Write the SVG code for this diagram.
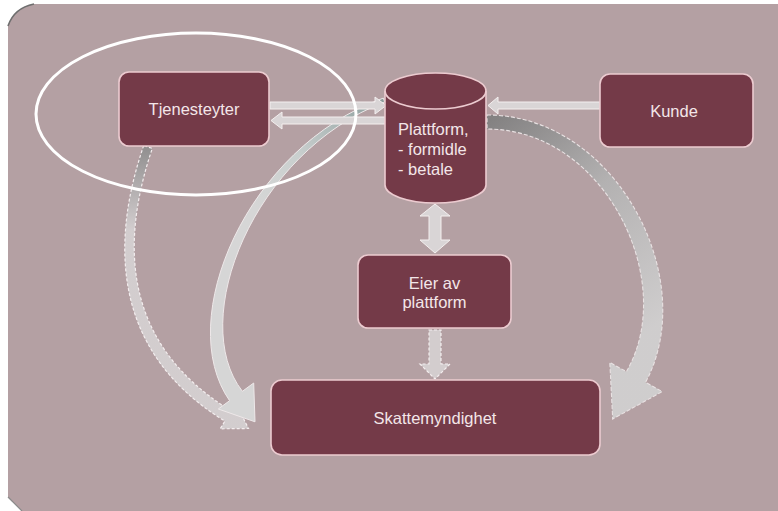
<svg xmlns="http://www.w3.org/2000/svg" width="778" height="511" viewBox="0 0 778 511">
  <style>
    .box { fill: #743A48; stroke: #ECCBD0; stroke-width: 1.6; }
    .lbl { font-family: "Liberation Sans", Arial, sans-serif; font-size: 16.5px; fill: #F3E6E8; }
    .mid { text-anchor: middle; }
    .sa { fill: #D9D5D6; stroke: #F4EFEF; stroke-width: 1; }
    .da { fill: #D6D2D3; fill-opacity: 0.9; stroke: #F4EEEF; stroke-width: 1.2; stroke-dasharray: 3 2; }
  </style>
  <defs>
    <linearGradient id="gL" gradientUnits="userSpaceOnUse" x1="380" y1="98" x2="250" y2="200">
      <stop offset="0" stop-color="#8D9E9D"/>
      <stop offset="0.6" stop-color="#C9CFCE"/>
      <stop offset="1" stop-color="#D6D6D6"/>
    </linearGradient>
    <linearGradient id="gR" gradientUnits="userSpaceOnUse" x1="490" y1="120" x2="650" y2="330">
      <stop offset="0" stop-color="#7E7E7E"/>
      <stop offset="0.45" stop-color="#B3B3B3"/>
      <stop offset="1" stop-color="#D2D2D2"/>
    </linearGradient>
    <linearGradient id="gD" gradientUnits="userSpaceOnUse" x1="0" y1="148" x2="0" y2="230">
      <stop offset="0" stop-color="#8E8E8E"/>
      <stop offset="1" stop-color="#D6D2D3"/>
    </linearGradient>
  </defs>

  <g id="background">
    <rect x="0" y="0" width="778" height="511" fill="#FFFFFF"/>
    <path d="M8,26 Q14,8 34,4 L778,4 L778,511 L22,511 L8,497 Z" fill="#B4A0A3"/>
    <path d="M8,26 Q14,8 34,4" fill="none" stroke="#6E6E6E" stroke-width="1.6"/>
    <path d="M8,497 L22,511" fill="none" stroke="#8A8A8A" stroke-width="1.2"/>
  </g>

  <g id="connectors">
    <!-- Tjenesteyter -> Skattemyndighet (dashed outline curved) -->
    <path class="da" style="fill:url(#gD)" d="M143.7,145.6 C113,235 107,349 224.9,421.1 L220.2,428.8 L248.5,428.5 L235.8,403.2 L231.1,410.9 C117,341 123,235 152.3,148.4 Z"/>
    <!-- Plattform -> Skattemyndighet (left solid curved) -->
    <path d="M383.3,98.1 C247,147.3 173,319.6 229.6,400.7 L218.3,409 L255,421.8 L253.7,383 L242.4,391.3 C187,320.4 253,152.7 384.7,101.9 Z" fill="url(#gL)" stroke="#EEE8E9" stroke-width="1"/>
    <!-- Plattform -> Skattemyndighet (right curved) -->
    <path d="M487,115 C615.5,114.9 701,278.9 645.6,382.3 L662.2,391.6 L612.7,419 L609.8,362.4 L626.4,371.7 C679,281.1 604.5,129.1 487,129 Z" fill="url(#gR)" fill-opacity="0.9" stroke="#E9E2E3" stroke-width="1.1" stroke-dasharray="4 2"/>
    <!-- Tjenesteyter -> Plattform -->
    <path class="sa" d="M270,102 L375,102 L375,97 L386,105.5 L375,114 L375,109 L270,109 Z"/>
    <!-- Plattform -> Tjenesteyter -->
    <path class="sa" d="M385,117 L282,117 L282,112 L271,120.5 L282,129 L282,124 L385,124 Z"/>
    <!-- Kunde -> Plattform -->
    <path class="sa" d="M600,102 L498,102 L498,97 L488,105.5 L498,114 L498,109 L600,109 Z"/>
    <!-- Plattform <-> Eier -->
    <path class="sa" d="M435,204 L450,216 L441,216 L441,240 L450,240 L435,253 L420,240 L429,240 L429,216 L420,216 Z"/>
    <!-- Eier -> Skattemyndighet -->
    <path class="da" d="M429,330 L441,330 L441,364 L450,364 L435,379 L420,364 L429,364 Z"/>
  </g>

  <g id="node-tjenesteyter">
    <rect class="box" x="119" y="72" width="150" height="74" rx="10"/>
    <text class="lbl mid" x="194" y="115">Tjenesteyter</text>
  </g>

  <g id="node-plattform">
    <path class="box" d="M385,91 L385,185 A50.5,18 0 0 0 486,185 L486,91 A50.5,18 0 0 0 385,91 Z"/>
    <path d="M385,91 A50.5,18 0 0 0 486,91" fill="none" stroke="#ECCBD0" stroke-width="1.6"/>
    <text class="lbl" x="398" y="135">Plattform,</text>
    <text class="lbl" x="398" y="155">- formidle</text>
    <text class="lbl" x="398" y="175">- betale</text>
  </g>

  <g id="node-kunde">
    <rect class="box" x="600" y="74" width="153" height="73" rx="10"/>
    <text class="lbl mid" x="674" y="117">Kunde</text>
  </g>

  <g id="node-eier">
    <rect class="box" x="358" y="255" width="153" height="73" rx="10"/>
    <text class="lbl mid" x="434.5" y="289">Eier av</text>
    <text class="lbl mid" x="434.5" y="308">plattform</text>
  </g>

  <g id="node-skattemyndighet">
    <rect class="box" x="271" y="380" width="329" height="75" rx="11"/>
    <text class="lbl mid" x="435" y="424">Skattemyndighet</text>
  </g>

  <g id="highlight">
    <ellipse cx="196" cy="114" rx="160" ry="81" fill="none" stroke="#FFFFFF" stroke-width="3"/>
  </g>
</svg>
